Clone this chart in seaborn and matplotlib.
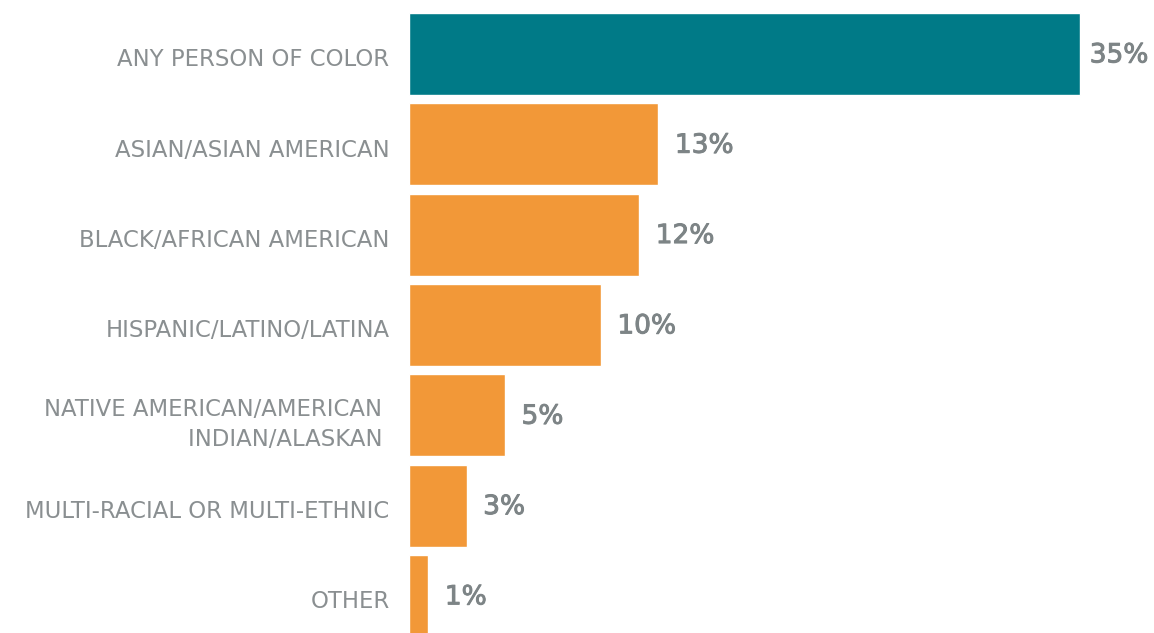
import matplotlib.pyplot as plt
import matplotlib.patheffects as pe
import matplotlib.transforms as mtransforms
import pandas as pd
import seaborn as sns

# Chart data
categories = [
    "ANY PERSON OF COLOR",
    "ASIAN/ASIAN AMERICAN",
    "BLACK/AFRICAN AMERICAN",
    "HISPANIC/LATINO/LATINA",
    "NATIVE AMERICAN/AMERICAN \nINDIAN/ALASKAN ",
    "MULTI-RACIAL OR MULTI-ETHNIC",
    "OTHER",
]
values = [35, 13, 12, 10, 5, 3, 1]
bar_colors = ["#007a87", "#f29838", "#f29838", "#f29838", "#f29838", "#f29838", "#f29838"]

df = pd.DataFrame({"group": categories, "pct": values})

sns.set_style("white")
plt.rcParams["font.family"] = ["DejaVu Sans"]

fig = plt.figure(figsize=(11.54, 6.33), dpi=100)
ax = fig.add_axes([409 / 1154, 0, 745 / 1154, 1])

sns.barplot(data=df, x="pct", y="group", hue="group", palette=bar_colors,
            legend=False, width=0.905, saturation=1, ax=ax)

ax.set_xlim(0, 38.86)
ax.set_ylim(6.41, -0.598)
ax.set_xlabel("")
ax.set_ylabel("")
ax.set_xticks([])
ax.tick_params(axis="y", length=0, pad=14, labelsize=16.4, labelcolor="#8a8f91")
shift = mtransforms.ScaledTranslation(0, -2.5 / 72, fig.dpi_scale_trans)
for lbl in ax.get_yticklabels():
    lbl.set_linespacing(1.4)
    lbl.set_transform(lbl.get_transform() + shift)
sns.despine(ax=ax, left=True, bottom=True)

# value labels; the longest bar's label is pulled in so it fits the frame
for i, v in enumerate(values):
    off = 7 if v == max(values) else 12
    ax.annotate(f"{v}%", (v, i), xytext=(off, -1), textcoords="offset points",
                va="center", ha="left", fontsize=19, color="#7d8486",
                path_effects=[pe.withStroke(linewidth=0.7, foreground="#7d8486")])

fig.savefig("out.png", dpi=100)
